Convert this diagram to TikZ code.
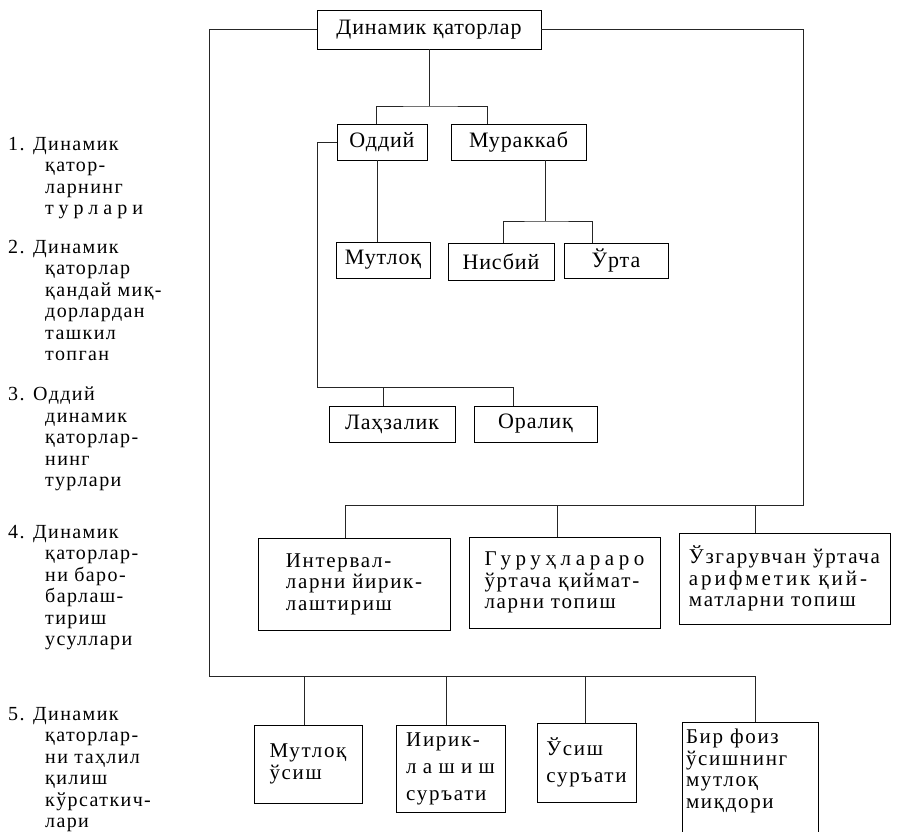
\documentclass[tikz,border=0pt]{standalone}
\usepackage{fontspec}
\setmainfont{Liberation Serif}
\newfontfamily\topfont{Liberation Serif}[LetterSpace=4]
\newfontfamily\lowfont{Liberation Serif}[LetterSpace=8]
\newfontfamily\listfont{Liberation Serif}[LetterSpace=7]
\usetikzlibrary{positioning}
\newcommand{\numlbl}[1]{\makebox[25pt][l]{#1}}
\newcommand{\indln}{\hspace*{37pt}}
\newcommand{\spaced}[2]{{\addfontfeature{LetterSpace=#1}#2}}
\tikzset{box/.style = {draw, inner sep = 0pt, font = \topfont\fontsize{22}{22}\selectfont}}
\tikzset{lowbox/.style = {box, align = left, font = \lowfont\fontsize{21}{21.5}\selectfont}}
\tikzset{item/.style = {anchor = north west, align = left, inner sep = 0pt, font = \listfont\fontsize{20}{21.5}\selectfont}}
\tikzset{link/.style = {-, line width = 0.9pt, draw = black!85}}
\begin{document}
\begin{tikzpicture}[x = 1pt, y = -1pt]
	\useasboundingbox (0, 0) rectangle (897, 831);

	\node[box, minimum width = 224, minimum height = 39] (dq) at (429, 29.5) {Динамик қаторлар};
	\node[box, minimum width = 90, minimum height = 36] (oddiy) at (382, 142) {Оддий};
	\node[box, minimum width = 135, minimum height = 36] (murakkab) at (518.5, 142) {Мураккаб};
	\node[box, minimum width = 94, minimum height = 36] (mutloq) at (383, 260) {Мутлоқ};
	\node[box, minimum width = 106, minimum height = 37] (nisbiy) at (501, 261.5) {Нисбий};
	\node[box, minimum width = 104, minimum height = 35] (urta) at (616, 260.5) {Ўрта};
	\node[box, minimum width = 126, minimum height = 36] (lahza) at (392, 424) {Лаҳзалик};
	\node[box, minimum width = 123, minimum height = 36] (oraliq) at (535.5, 424) {Оралиқ};

	\node[lowbox, minimum width = 192, minimum height = 92] (interval) at (354, 584) {Интервал-\\ларни йирик-\\лаштириш};
	\node[lowbox, minimum width = 191, minimum height = 91] (guruh) at (564.5, 582.5) {\spaced{22}{Гуруҳлараро}\\ўртача қиймат-\\ларни топиш};
	\node[lowbox, minimum width = 211, minimum height = 91] (uzgar) at (784.5, 578.5) {Ўзгарувчан ўртача\\\spaced{14}{арифметик қий-}\\матларни топиш};

	\node[lowbox, minimum width = 108, minimum height = 78] (mutosish) at (308, 764) {Мутлоқ\\ўсиш};
	\node[lowbox, minimum width = 109, minimum height = 87] (yirik) at (450.5, 768.5) {Иирик-\\[5.5pt]\spaced{30}{лашиш}\\[5.5pt]суръати};
	\node[lowbox, minimum width = 99, minimum height = 79] (usish) at (586.5, 762.5) {Ўсиш\\[5pt]суръати};
	\node[lowbox, anchor = north, minimum width = 136, minimum height = 130] (birfoiz) at (750, 722)
		{\parbox[c][130pt][t]{128pt}{\raggedright\vspace*{7pt}Бир фоиз\\ўсишнинг\\мутлоқ\\миқдори}};

	\node[item] (l1) at (8, 137) {\numlbl{1.}Динамик\\\indln қатор-\\\indln ларнинг\\\indln \spaced{25}{турлари}};
	\node[item] (l2) at (8, 240) {\numlbl{2.}Динамик\\\indln қаторлар\\\indln қандай миқ-\\\indln дорлардан\\\indln ташкил\\\indln топган};
	\node[item] (l3) at (8, 387) {\numlbl{3.}Оддий\\\indln динамик\\\indln қаторлар-\\\indln нинг\\\indln турлари};
	\node[item] (l4) at (8, 525) {\numlbl{4.}Динамик\\\indln қаторлар-\\\indln ни баро-\\\indln барлаш-\\\indln тириш\\\indln усуллари};
	\node[item] (l5) at (8, 707) {\numlbl{5.}Динамик\\\indln қаторлар-\\\indln ни таҳлил\\\indln қилиш\\\indln кўрсаткич-\\\indln лари};

	\coordinate (jtop) at (429, 106);
	\coordinate (jodd) at (317, 387);
	\coordinate (jmur) at (545, 221);
	\coordinate (jbot) at (209, 676);
	\coordinate (jmid) at (803, 505);

	\draw[link] (dq.south) -- (jtop);
	\draw[link] ([xshift = -6]oddiy.north) |- (jtop) -| ([xshift = -31.5]murakkab.north);
	\draw[link] ([xshift = -5]oddiy.south) -- ([xshift = -6]mutloq.north);
	\draw[link] (oddiy.west) -| (jodd) -| ([xshift = -9]lahza.north);
	\draw[link] (jodd) -| ([xshift = -22.5]oraliq.north);
	\draw[link] ([xshift = 26.5]murakkab.south) -- (jmur);
	\draw[link] ([xshift = 2]nisbiy.north) |- (jmur) -| ([xshift = -24]urta.north);

	\draw[link] (dq.east) -| (jmid) -| ([xshift = -9]interval.north);
	\draw[link] ([xshift = -7.5]guruh.north) |- (jmid);
	\draw[link] ([xshift = -29.5]uzgar.north) |- (jmid);

	\draw[link] (dq.west) -| (jbot) -| ([xshift = 5]birfoiz.north);
	\draw[link] ([xshift = -4]mutosish.north) |- (jbot);
	\draw[link] ([xshift = -4.5]yirik.north) |- (jbot);
	\draw[link] ([xshift = -1.5]usish.north) |- (jbot);
\end{tikzpicture}
\end{document}
